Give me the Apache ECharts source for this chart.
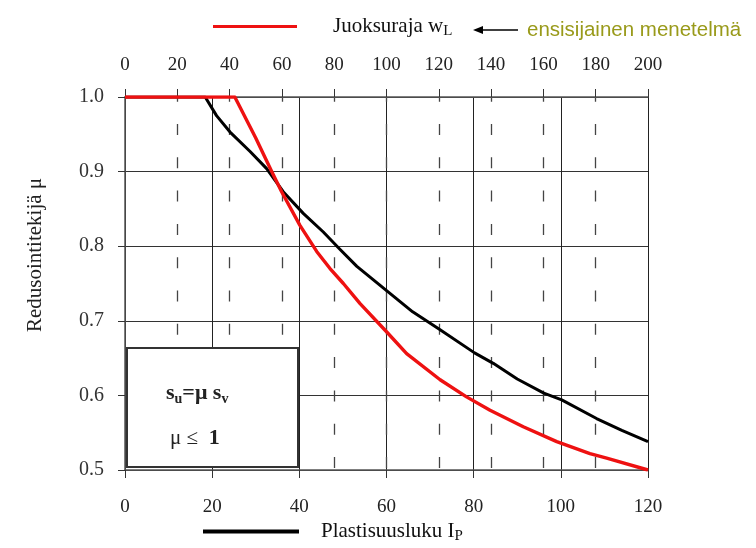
<!DOCTYPE html>
<html>
<head>
<meta charset="utf-8">
<script src="https://cdn.jsdelivr.net/npm/echarts@6/dist/echarts.min.js"></script>
<style>
  html, body { margin: 0; padding: 0; background: #fff; }
  #chart { width: 756px; height: 548px; }
</style>
</head>
<body>
<div id="chart"></div>
<script>
  // plasticity index Ip (bottom axis) -> mu
  var ipValues = [0, 18.4, 21, 24.1, 28.7, 32.5, 36.3, 40.9, 45.5, 49.3, 53.2, 60.3, 66, 72.3, 80.2, 84.5, 90, 96.1, 100.2, 108.2, 114, 120]
  var muByIp = [1.0, 1.0, 0.975, 0.953, 0.927, 0.904, 0.873, 0.844, 0.819, 0.796, 0.773, 0.739, 0.712, 0.688, 0.657, 0.643, 0.622, 0.603, 0.594, 0.569, 0.553, 0.538]
  // liquid limit wL (top axis) -> mu
  var wlValues = [0, 42, 50, 56.1, 59.9, 66.9, 73.3, 78.4, 83.5, 89.9, 100.1, 107.7, 120.5, 130.6, 139.6, 152.3, 165.1, 177.8, 184.2, 200]
  var muByWl = [1.0, 1.0, 0.945, 0.900, 0.873, 0.828, 0.793, 0.770, 0.750, 0.723, 0.685, 0.656, 0.621, 0.598, 0.580, 0.558, 0.538, 0.522, 0.516, 0.5]
  var ipTicks = [0, 120, 20]
  var wlTicks = [0, 200, 20]
  var muTicks = [0.5, 1.0, 0.1]

  var serif = 'Liberation Serif'
  var red = '#ee1111'

  function pairs(xs, ys) {
    return xs.map(function(x, i) { return [x, ys[i]] })
  }

  var chart = echarts.init(document.getElementById('chart'))
  var options = {
    animation: false,
    grid: { left: 125, right: 108, top: 97, bottom: 78 },
    legend: [
      {
        data: ['Juoksuraja wL'],
        left: 208,
        top: 11,
        icon: 'rect',
        itemWidth: 84,
        itemHeight: 3,
        formatter: function() { return '{a|Juoksuraja w}{sub|L}' },
        textStyle: {
          padding: [0, 0, 0, 31],
          rich: {
            a: { fontFamily: serif, fontSize: 21, color: '#111', lineHeight: 24 },
            sub: { fontFamily: serif, fontSize: 15, color: '#111', lineHeight: 14, verticalAlign: 'bottom' }
          }
        }
      },
      {
        data: ['Plastisuusluku IP'],
        left: 198,
        top: 516,
        icon: 'rect',
        itemWidth: 96,
        itemHeight: 4,
        formatter: function() { return '{a|Plastisuusluku I}{sub|P}' },
        textStyle: {
          padding: [0, 0, 0, 17],
          rich: {
            a: { fontFamily: serif, fontSize: 21, color: '#111', lineHeight: 24 },
            sub: { fontFamily: serif, fontSize: 15, color: '#111', lineHeight: 14, verticalAlign: 'bottom' }
          }
        }
      }
    ],
    xAxis: [
      {
        type: 'value',
        position: 'bottom',
        min: ipTicks[0],
        max: ipTicks[1],
        interval: ipTicks[2],
        axisLine: { show: true, lineStyle: { color: '#555', width: 1.5 } },
        axisTick: { show: true, length: 8, lineStyle: { color: '#333' } },
        axisLabel: { fontFamily: serif, fontSize: 19, color: '#222', margin: 28 },
        splitLine: { show: true, lineStyle: { color: '#222', width: 1 } }
      },
      {
        type: 'value',
        position: 'top',
        min: wlTicks[0],
        max: wlTicks[1],
        interval: wlTicks[2],
        axisLine: { show: true, lineStyle: { color: '#555', width: 1.5 } },
        axisTick: { show: true, length: 8, lineStyle: { color: '#333' } },
        axisLabel: { fontFamily: serif, fontSize: 19, color: '#222', margin: 22 },
        splitLine: {
          show: true,
          showMinLine: false,
          showMaxLine: false,
          lineStyle: { color: '#444', width: 1.3, type: [11, 22.3], dashOffset: 6.3 }
        }
      }
    ],
    yAxis: {
      type: 'value',
      min: muTicks[0],
      max: muTicks[1],
      interval: muTicks[2],
      axisLine: { show: true, lineStyle: { color: '#555', width: 1.5 } },
      axisTick: { show: true, length: 7, lineStyle: { color: '#333' } },
      axisLabel: {
        fontFamily: serif,
        fontSize: 20,
        color: '#333',
        margin: 21,
        formatter: function(v) { return v.toFixed(1) }
      },
      splitLine: { show: true, lineStyle: { color: '#333', width: 1 } }
    },
    series: [
      {
        name: 'Plastisuusluku IP',
        type: 'line',
        xAxisIndex: 0,
        data: pairs(ipValues, muByIp),
        symbol: 'none',
        color: '#000',
        lineStyle: { color: '#000', width: 3, join: 'round' },
        z: 3
      },
      {
        name: 'Juoksuraja wL',
        type: 'line',
        xAxisIndex: 1,
        data: pairs(wlValues, muByWl),
        symbol: 'none',
        color: red,
        lineStyle: { color: red, width: 3.4, join: 'round' },
        z: 4
      }
    ],
    graphic: [
      // y axis title
      {
        type: 'text',
        x: 35,
        y: 255,
        rotation: Math.PI / 2,
        style: {
          text: 'Redusointitekijä μ',
          fontFamily: serif,
          fontSize: 21,
          fill: '#222',
          align: 'center',
          verticalAlign: 'middle'
        }
      },
      // arrow + note next to the top legend
      {
        type: 'line',
        shape: { x1: 480, y1: 30, x2: 518, y2: 30 },
        style: { stroke: '#000', lineWidth: 1.5 }
      },
      {
        type: 'polygon',
        shape: { points: [[473, 30], [483, 26], [483, 34]] },
        style: { fill: '#000' }
      },
      {
        type: 'text',
        x: 527,
        y: 30,
        style: {
          text: 'ensisijainen menetelmä',
          fontFamily: 'Liberation Sans',
          fontSize: 20.5,
          fill: '#999a1a',
          verticalAlign: 'middle'
        }
      },
      // formula box
      {
        type: 'rect',
        z: 10,
        shape: { x: 127, y: 348, width: 171, height: 119 },
        style: { fill: '#fff', stroke: '#333', lineWidth: 2 }
      },
      {
        type: 'text',
        z: 11,
        x: 166,
        y: 393,
        style: {
          text: '{b|s}{s|u}{b|=μ s}{s|v}',
          verticalAlign: 'middle',
          rich: {
            b: { fontFamily: serif, fontSize: 22, fontWeight: 'bold', fill: '#222', lineHeight: 26 },
            s: { fontFamily: serif, fontSize: 14, fontWeight: 'bold', fill: '#222', lineHeight: 14, verticalAlign: 'bottom' }
          }
        }
      },
      {
        type: 'text',
        z: 11,
        x: 170,
        y: 438,
        style: {
          text: '{n|μ ≤ }{b| 1}',
          verticalAlign: 'middle',
          rich: {
            n: { fontFamily: serif, fontSize: 21, fill: '#222' },
            b: { fontFamily: serif, fontSize: 22, fontWeight: 'bold', fill: '#222' }
          }
        }
      }
    ]
  }
  chart.setOption(options)
</script>
</body>
</html>
